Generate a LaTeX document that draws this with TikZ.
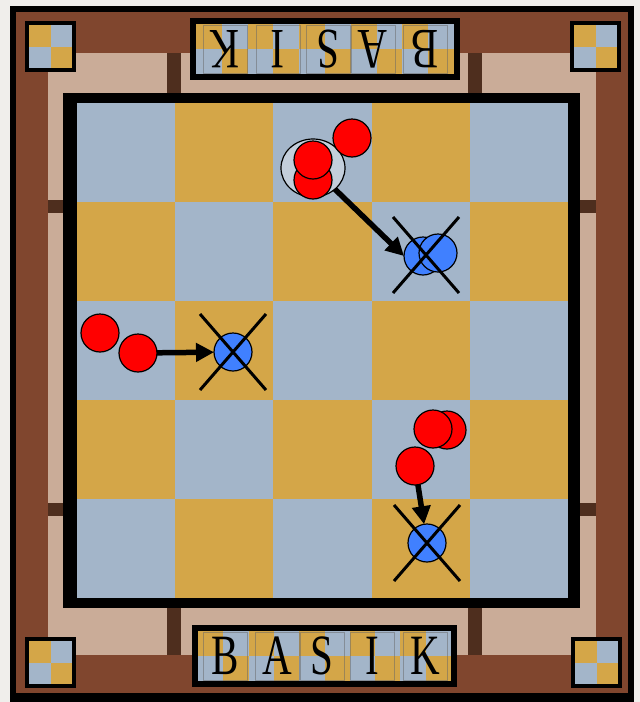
\documentclass[tikz,border=0pt]{standalone}
\usepackage{graphicx}
\usepackage{fontspec}
\newfontfamily\titlefont{Liberation Serif}
\usetikzlibrary{arrows.meta,shapes.geometric}

\definecolor{paper}{RGB}{240,238,235}
\definecolor{rust}{RGB}{128,70,46}
\definecolor{marble}{RGB}{202,172,152}
\definecolor{bar}{RGB}{78,46,30}
\definecolor{cellblue}{RGB}{163,181,201}
\definecolor{cellgold}{RGB}{212,166,72}
\definecolor{pieceblue}{RGB}{64,128,255}

% two strokes through a captured piece
\newcommand\crossout[1]{%
  \draw[cross] ([shift={(-33,-38)}]#1.center) -- ([shift={(33,38)}]#1.center);
  \draw[cross] ([shift={(33,-38)}]#1.center) -- ([shift={(-33,38)}]#1.center);}

\begin{document}
\begin{tikzpicture}[x=1pt,y=-1pt,>={Triangle[length=18pt,width=18pt]},
  redp/.style={circle,draw,line width=1.2pt,fill=red,minimum size=38pt,inner sep=0pt,outer sep=0pt},
  bluep/.style={redp,fill=pieceblue},
  mv/.style={->,line width=5.5pt},
  cross/.style={line width=3pt},
  letter/.style={font=\titlefont\fontsize{57}{57}\selectfont,inner sep=0pt,text=black},
  tile/.style={draw=black!60,draw opacity=.5,line width=.6pt,minimum width=44pt,minimum height=48pt}]
\useasboundingbox (0,0) rectangle (640,702);
% frame
\fill[paper] (0,0) rectangle (640,702);
\fill[black] (10,6) rectangle (634,702);
\fill[rust] (16,12) rectangle (628,693);
\fill[marble] (48,53) rectangle (596,655);
\foreach \x in {167,468} {
  \fill[bar] (\x,53) rectangle ++(14,40);
  \fill[bar] (\x,608) rectangle ++(14,47);}
\foreach \y in {200,503} {
  \fill[bar] (48,\y) rectangle ++(15,13);
  \fill[bar] (580,\y) rectangle ++(16,13);}
% corner tiles
\foreach \x/\y in {25/21,570/21,25/637,571/637} {
  \fill[black] (\x,\y) rectangle ++(51,51);
  \fill[cellgold] (\x+4,\y+4) rectangle ++(21.5,21.5);
  \fill[cellblue] (\x+25.5,\y+4) rectangle ++(21.5,21.5);
  \fill[cellblue] (\x+4,\y+25.5) rectangle ++(21.5,21.5);
  \fill[cellgold] (\x+25.5,\y+25.5) rectangle ++(21.5,21.5);}
% board
\fill[black] (63,93) rectangle (580,608);
\foreach \r in {0,...,4} \foreach \c in {0,...,4} {
  \pgfmathtruncatemacro\odd{mod(\r+\c,2)}
  \ifnum\odd=1 \def\shade{cellgold}\else\def\shade{cellblue}\fi
  \fill[\shade] (77+\c*98.2,103+\r*99) rectangle ++(98.2,99);}
% name strips
\fill[black] (192,625) rectangle (457,687);
\fill[black] (190,18) rectangle (460,80);
\foreach \i in {0,...,9} {
  \pgfmathtruncatemacro\odd{mod(\i,2)}
  \ifnum\odd=0 \def\up{cellgold}\def\dn{cellblue}\else\def\up{cellblue}\def\dn{cellgold}\fi
  \fill[\up] (198+\i*25.3,631) rectangle ++(25.3,25);
  \fill[\dn] (198+\i*25.3,656) rectangle ++(25.3,25);
  \fill[\up] (196+\i*25.8,24) rectangle ++(25.8,25);
  \fill[\dn] (196+\i*25.8,49) rectangle ++(25.8,25);}
\foreach \l/\x [count=\k] in {B/225,A/277,S/322,I/372,K/425} {
  \node[letter,tile] (nb\k) at (\x,656) {\scalebox{0.72}[1]{\l}};
  \node[letter,tile,rotate=180] (nt\k) at (650-\x,49) {\scalebox{0.72}[1]{\l}};}
% left move
\node[redp] (lr1) at (100,333) {};
\node[redp] (lr2) at (138,353) {};
\node[bluep] (lb) at (233,352) {};
\draw[mv] (lr2) -- (lb);
\crossout{lb}
% top right move
\node[ellipse,draw,line width=1.2pt,fill=white,fill opacity=.35,minimum width=64pt,minimum height=58pt,inner sep=0pt,outer sep=0pt] (grp) at (313,168) {};
\node[redp] (tr1) at (313,180) {};
\node[redp] (tr2) at (313,160) {};
\node[redp] (tr3) at (352,138) {};
\node[bluep] (tb1) at (423,256) {};
\node[bluep] (tb2) at (438,253) {};
\draw[mv] (grp) -- (tb1.west);
\coordinate (tx) at (426,255);
\crossout{tx}
% bottom right move
\node[redp] (br1) at (447,430) {};
\node[redp] (br2) at (433,429) {};
\node[redp] (br3) at (415,466) {};
\node[bluep] (bb) at (427,543) {};
\draw[mv] (br3) -- (bb);
\crossout{bb}
\end{tikzpicture}
\end{document}
